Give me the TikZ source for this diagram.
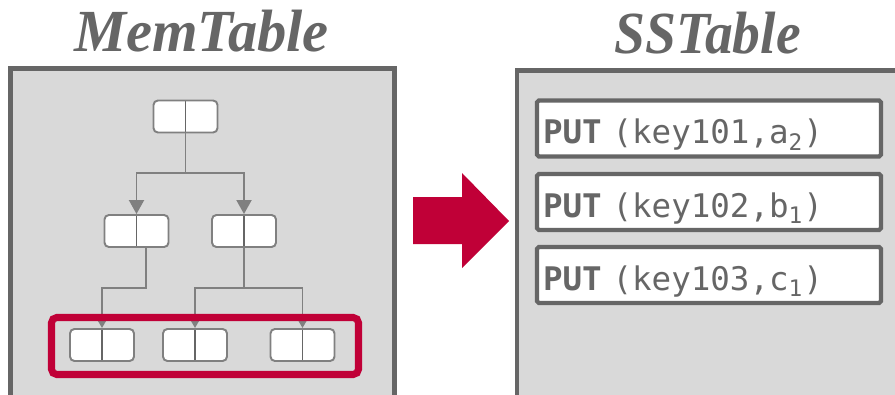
\documentclass[tikz,border=0pt]{standalone}
\usepackage{fontspec}
\setmonofont{DejaVu Sans Mono}
\newfontfamily\headfont{Liberation Serif}
\usetikzlibrary{arrows.meta,positioning}
\definecolor{boxgray}{HTML}{D9D9D9}
\definecolor{framegray}{HTML}{666666}
\definecolor{treegray}{HTML}{808080}
\definecolor{flushred}{HTML}{C00037}
\tikzset
{
    heading/.style  = {anchor=base, text=framegray, font=\headfont\bfseries\itshape\fontsize{34}{40}\selectfont, transform shape},
    pairnode/.style = {draw=treegray, fill=white, line width=1.1pt, rounded corners=2.5pt, minimum width=1.28cm, minimum height=0.64cm, inner sep=0pt,
                       path picture={\draw[draw=framegray, line width=1.1pt] (path picture bounding box.north) -- (path picture bounding box.south);}},
    bigarrow/.style   = {draw=treegray, line width=1.1pt, -{Triangle[width=0.3cm,length=0.28cm]}},
    smallarrow/.style = {draw=treegray, line width=1.1pt, -{Triangle[width=0.15cm,length=0.14cm]}},
    entry/.style    = {draw=framegray, fill=white, line width=2.4pt, rounded corners=1pt, minimum width=6.88cm, minimum height=1.12cm,
                       inner xsep=0.12cm, text width=6.64cm, align=left, text height=0.7cm, text depth=0.09cm,
                       text=framegray, font=\ttfamily\fontsize{18.5}{22}\selectfont}
}

\begin{document}
\begin{tikzpicture}[x=0.02cm, y=-0.02cm]
\clip (0,0) rectangle (895,395);
\fill[white] (0,0) rectangle (895,395);

% memtable side
\node[heading, xscale=0.98] (memtitle) at (201.5,52) {MemTable};
\draw[framegray, fill=boxgray, line width=2.4pt] (10.5,420) |- (394.5,68.5) -- (394.5,420);

\node[pairnode] (root) at (185.5,116.5) {};
\node[pairnode] (lefta) at (136.5,231) {};
\node[pairnode] (righta) at (244,231) {};
\node[pairnode] (leafa) at (102,345) {};
\node[pairnode] (leafb) at (195,345) {};
\node[pairnode] (leafc) at (302.5,345) {};

\coordinate (forkroot) at (185.5,173);
\coordinate (forkleft) at (146,288);
\coordinate (forkright) at (244,288);

\draw[treegray, line width=1.1pt] (root.south) -- (forkroot);
\draw[bigarrow] (forkroot) -| (lefta.north);
\draw[bigarrow] (forkroot) -| (righta.north);
\draw[smallarrow] ([xshift=0.19cm]lefta.south) -- (forkleft) -| (leafa.north);
\draw[treegray, line width=1.1pt] (righta.south) -- (forkright);
\draw[smallarrow] (forkright) -| (leafb.north);
\draw[smallarrow] (forkright) -| (leafc.north);

\draw[flushred, line width=4pt, rounded corners=3pt] (51.5,317.5) rectangle (358.5,374.5);

% flush arrow
\fill[flushred] (413,197) -- (462,197) -- (462,173) -- (509,221) -- (462,268) -- (462,244) -- (413,244) -- cycle;

% sstable side
\node[heading, xscale=0.93] (sstitle) at (707.5,54) {SSTable};
\draw[framegray, fill=boxgray, line width=2.4pt] (517,70.5) rectangle (920,420);

\node[entry] (puta) at (709,128.5) {\textbf{PUT} (key101,a\textsubscript{2})};
\node[entry] (putb) at (709,202) {\textbf{PUT} (key102,b\textsubscript{1})};
\node[entry] (putc) at (709,275) {\textbf{PUT} (key103,c\textsubscript{1})};
\end{tikzpicture}
\end{document}
